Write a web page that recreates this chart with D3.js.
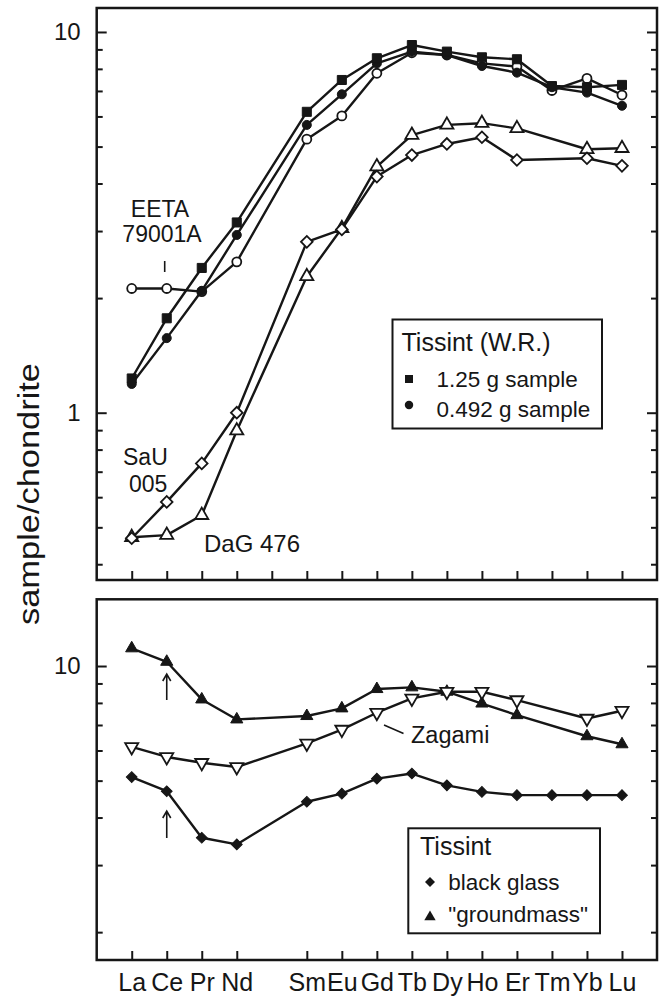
<!DOCTYPE html>
<html>
<head>
<meta charset="utf-8">
<script src="https://cdn.jsdelivr.net/npm/d3@7"></script>
<style>
body { margin: 0; background: #fff; }
text { font-family: "Liberation Sans", Arial, Helvetica, sans-serif; fill: #161616; }
</style>
</head>
<body>
<svg id="chart" width="664" height="997"></svg>
<script>
// REE order (Pm has no data)
var elements = ["La", "Ce", "Pr", "Nd", "Pm", "Sm", "Eu", "Gd", "Tb", "Dy", "Ho", "Er", "Tm", "Yb", "Lu"];

// upper panel: whole rocks
var tissint125 = [1.23, 1.77, 2.40, 3.16, null, 6.17, 7.48, 8.53, 9.24, 8.88, 8.58, 8.48, 7.21, 7.16, 7.26];
var tissint0492 = [1.19, 1.57, 2.09, 2.93, null, 5.70, 6.86, 8.27, 8.88, 8.70, 8.14, 7.82, 7.16, 6.93, 6.40];
var eeta79001A = [2.12, 2.12, 2.08, 2.49, null, 5.23, 6.02, 7.79, 8.82, 8.70, 8.27, 8.11, 7.02, 7.55, 6.83];
var sau005 = [0.468, 0.583, 0.736, 1.00, null, 2.81, 3.03, 4.17, 4.75, 5.08, 5.29, 4.61, null, 4.66, 4.45];
var dag476 = [0.471, 0.477, 0.538, 0.897, null, 2.28, 3.05, 4.43, 5.36, 5.70, 5.76, 5.58, null, 4.92, 4.95];

// lower panel: glass / groundmass
var groundmass = [11.13, 10.26, 8.17, 7.24, null, 7.39, 7.74, 8.70, 8.79, 8.56, 7.97, 7.43, null, 6.54, 6.23];
var zagami = [6.13, 5.77, 5.57, 5.43, null, 6.26, 6.81, 7.54, 8.22, 8.56, 8.56, 8.14, null, 7.28, 7.63];
var blackGlass = [5.11, 4.69, 3.54, 3.40, null, 4.40, 4.62, 5.06, 5.22, 4.86, 4.67, 4.58, 4.58, 4.58, 4.58];

var topMajor = [1, 10];
var topMinor = [0.4, 0.5, 0.6, 0.7, 0.8, 0.9, 2, 3, 4, 5, 6, 7, 8, 9];
var botMajor = [10];
var botMinor = [2, 3, 4, 5, 6, 7, 8, 9];

var ink = "#161616";
var svg = d3.select("#chart");

var x = d3.scaleLinear().domain([-1, 15]).range([96.7, 657]);
var left = 96.7, right = 657;

function panel(yScale, yTop, yBottom, major, minor, xTicks, showXLabels) {
  var g = svg.append("g");

  // major ticks with labels, left
  g.append("g")
    .attr("transform", "translate(" + left + ",0)")
    .call(d3.axisLeft(yScale).tickValues(major).tickSize(-10).tickPadding(16).tickFormat(d3.format("d")));
  g.append("g")
    .attr("transform", "translate(" + left + ",0)")
    .call(d3.axisLeft(yScale).tickValues(minor).tickSize(-6).tickFormat(""));
  // right side, inward
  g.append("g")
    .attr("transform", "translate(" + right + ",0)")
    .call(d3.axisRight(yScale).tickValues(major).tickSize(-10).tickFormat(""));
  g.append("g")
    .attr("transform", "translate(" + right + ",0)")
    .call(d3.axisRight(yScale).tickValues(minor).tickSize(-6).tickFormat(""));
  // x ticks
  var xa = g.append("g")
    .attr("class", "xaxis")
    .attr("transform", "translate(0," + yBottom + ")")
    .call(d3.axisBottom(x).tickValues(xTicks).tickSize(-9).tickPadding(13)
      .tickFormat(function(d) { return showXLabels ? elements[d] : ""; }));

  g.selectAll(".domain").remove();
  g.selectAll(".tick line").attr("stroke", ink).attr("stroke-width", 2);
  g.selectAll(".tick text").attr("font-size", 24).attr("fill", ink)
    .style("font-family", "'Liberation Sans', Arial, sans-serif");
  xa.selectAll(".tick text").attr("font-size", 25);

  g.append("rect")
    .attr("x", left).attr("y", yTop)
    .attr("width", right - left).attr("height", yBottom - yTop)
    .attr("fill", "none").attr("stroke", ink).attr("stroke-width", 2.5);
  return g;
}

function markerPath(type) {
  if (type == "square") return d3.symbol().type(d3.symbolSquare).size(82)();
  if (type == "circle") return d3.symbol().type(d3.symbolCircle).size(64)();
  if (type == "diamond") return d3.symbol().type(d3.symbolSquare).size(68)();
  if (type == "fdiamond") return d3.symbol().type(d3.symbolSquare).size(58)();
  if (type == "triangle" || type == "tridown") return d3.symbol().type(d3.symbolTriangle).size(74)();
  if (type == "ftriangle") return d3.symbol().type(d3.symbolTriangle).size(64)();
}

function markerRotate(type) {
  if (type == "diamond" || type == "fdiamond") return 45;
  if (type == "tridown") return 180;
  return 0;
}

function drawSeries(g, yScale, values, type, filled) {
  var pts = [];
  values.forEach(function(v, i) { if (v != null) pts.push({i: i, v: v}); });

  var line = d3.line()
    .x(function(d) { return x(d.i); })
    .y(function(d) { return yScale(d.v); });

  g.append("path")
    .datum(pts)
    .attr("d", line)
    .attr("fill", "none")
    .attr("stroke", ink)
    .attr("stroke-width", 2.4)
    .attr("stroke-linejoin", "round");

  g.selectAll(null)
    .data(pts)
    .enter()
    .append("path")
    .attr("d", markerPath(type))
    .attr("transform", function(d) {
      return "translate(" + x(d.i) + "," + yScale(d.v) + ") rotate(" + markerRotate(type) + ")";
    })
    .attr("fill", filled ? ink : "#fff")
    .attr("stroke", ink)
    .attr("stroke-width", filled ? 1 : 1.8);
}

function label(txt, px, py, size, anchor) {
  svg.append("text")
    .attr("x", px).attr("y", py)
    .attr("font-size", size)
    .attr("text-anchor", anchor || "start")
    .text(txt);
}

// ---------- upper panel ----------
var yA = d3.scaleLog().domain([0.3636, 11.56]).range([580, 8]);
var allTicks = d3.range(0, 15);
var gA = panel(yA, 8, 580, topMajor, topMinor, allTicks, false);

drawSeries(gA, yA, dag476, "triangle", false);
drawSeries(gA, yA, sau005, "diamond", false);
drawSeries(gA, yA, eeta79001A, "circle", false);
drawSeries(gA, yA, tissint0492, "circle", true);
drawSeries(gA, yA, tissint125, "square", true);

label("EETA", 160, 216.5, 23, "middle");
label("79001A", 162, 241.5, 23, "middle");
svg.append("line").attr("x1", 164.7).attr("x2", 164.7).attr("y1", 261).attr("y2", 272)
  .attr("stroke", ink).attr("stroke-width", 1.6);
label("SaU", 123, 465, 23);
label("005", 129, 491.5, 23);
label("DaG 476", 204, 551.5, 24);

// legend (upper)
svg.append("rect").attr("x", 392.5).attr("y", 319.5).attr("width", 209.5).attr("height", 109)
  .attr("fill", "#fff").attr("stroke", ink).attr("stroke-width", 2);
label("Tissint (W.R.)", 401.5, 350.5, 25);
svg.append("path").attr("d", d3.symbol().type(d3.symbolSquare).size(64)())
  .attr("transform", "translate(409,379)").attr("fill", ink);
label("1.25 g sample", 436.5, 387, 22.5);
svg.append("path").attr("d", d3.symbol().type(d3.symbolCircle).size(56)())
  .attr("transform", "translate(409,405)").attr("fill", ink);
label("0.492 g sample", 436.5, 416.5, 22.5);

// ---------- lower panel ----------
var yB = d3.scaleLog().domain([1.69, 14.97]).range([960, 599.3]);
var lowTicks = allTicks.filter(function(d) { return d != 4; });
var gB = panel(yB, 599.3, 960, botMajor, botMinor, lowTicks, true);

drawSeries(gB, yB, groundmass, "ftriangle", true);
drawSeries(gB, yB, zagami, "tridown", false);
drawSeries(gB, yB, blackGlass, "fdiamond", true);

label("Zagami", 411, 743.3, 23.5);
svg.append("line").attr("x1", 384).attr("y1", 725).attr("x2", 403.5).attr("y2", 733.5)
  .attr("stroke", ink).attr("stroke-width", 1.6);

// Ce anomaly arrows
[[674, 700], [811, 838]].forEach(function(a) {
  var ax = x(1);
  svg.append("path")
    .attr("d", "M" + ax + "," + a[1] + "V" + a[0] + "M" + (ax - 4) + "," + (a[0] + 7) + "L" + ax + "," + a[0] + "L" + (ax + 4) + "," + (a[0] + 7))
    .attr("fill", "none").attr("stroke", ink).attr("stroke-width", 1.6);
});

// legend (lower)
svg.append("rect").attr("x", 408.3).attr("y", 828.3).attr("width", 191.7).attr("height", 105)
  .attr("fill", "#fff").attr("stroke", ink).attr("stroke-width", 2);
label("Tissint", 420, 855, 25);
svg.append("path").attr("d", d3.symbol().type(d3.symbolSquare).size(50)())
  .attr("transform", "translate(430,882) rotate(45)").attr("fill", ink);
label("black glass", 448.3, 890, 22.5);
svg.append("path").attr("d", d3.symbol().type(d3.symbolTriangle).size(56)())
  .attr("transform", "translate(430,917)").attr("fill", ink);
label("\"groundmass\"", 448.3, 921.5, 22.5);

// y title
svg.append("text")
  .attr("transform", "translate(39,494) rotate(-90)")
  .attr("text-anchor", "middle")
  .attr("font-size", 30)
  .attr("textLength", 262)
  .attr("lengthAdjust", "spacingAndGlyphs")
  .text("sample/chondrite");
</script>
</body>
</html>
